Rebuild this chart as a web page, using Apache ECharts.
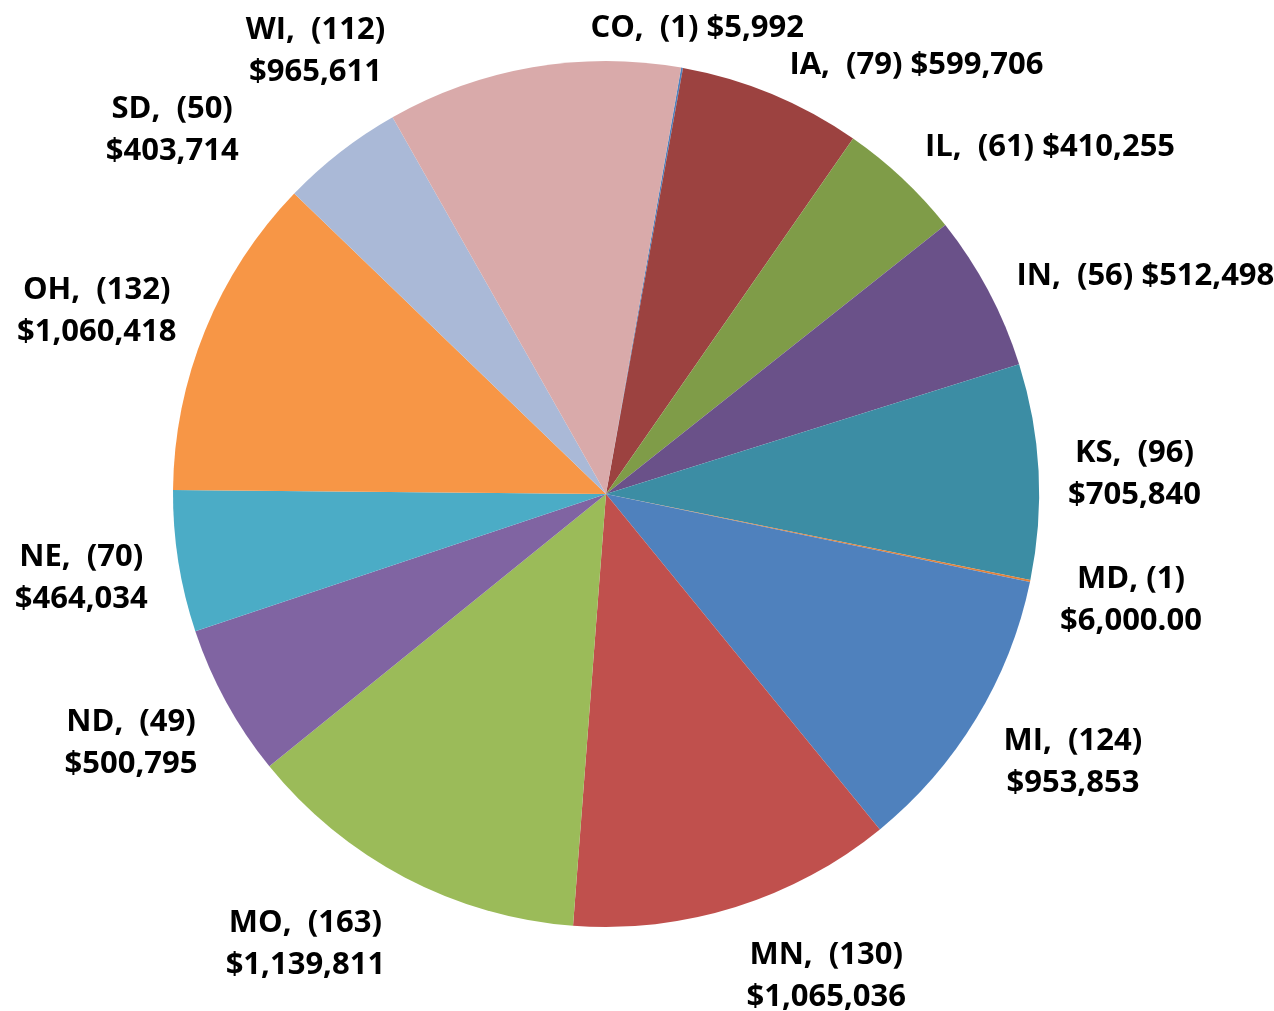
<!DOCTYPE html>
<html>
<head>
<meta charset="utf-8">
<script src="https://cdn.jsdelivr.net/npm/echarts@6/dist/echarts.min.js"></script>
<style>
  html, body { margin: 0; padding: 0; background: #fff; }
  #chart { width: 1274px; height: 1011px; }
</style>
</head>
<body>
<div id="chart"></div>
<script>
// states in clockwise order, starting near the top
const states = ['CO', 'IA', 'IL', 'IN', 'KS', 'MD', 'MI', 'MN', 'MO', 'ND', 'NE', 'OH', 'SD', 'WI'];
const counts = [1, 79, 61, 56, 96, 1, 124, 130, 163, 49, 70, 132, 50, 112];
const amounts = [5992, 599706, 410255, 512498, 705840, 6000, 953853, 1065036, 1139811, 500795, 464034, 1060418, 403714, 965611];
const labels = [
    'CO,  (1) $5,992',
    'IA,  (79) $599,706',
    'IL,  (61) $410,255',
    'IN,  (56) $512,498',
    'KS,  (96)\n$705,840',
    'MD, (1)\n$6,000.00',
    'MI,  (124)\n$953,853',
    'MN,  (130)\n$1,065,036',
    'MO,  (163)\n$1,139,811',
    'ND,  (49)\n$500,795',
    'NE,  (70)\n$464,034',
    'OH,  (132)\n$1,060,418',
    'SD,  (50)\n$403,714',
    'WI,  (112)\n$965,611'
];
const colors = ['#4F81BD', '#9C4240', '#7F9C48', '#6A5189', '#3C8DA4', '#E0813A', '#4F81BD',
    '#C0504D', '#9BBB59', '#8064A2', '#4BACC6', '#F79646', '#AAB9D7', '#D9AAAA'];

// where each label sits: [degrees clockwise from 12 o'clock, px from pie centre]
const labelSpots = [[11.0, 478], [35.7, 532], [51.8, 565], [67.7, 583], [87.5, 529], [101.1, 535],
    [119.6, 537], [155.3, 527], [213.9, 539], [242.6, 535], [261.2, 531], [290.0, 542], [310.2, 568], [326.9, 532]];

const cx = 606, cy = 494;

const chart = echarts.init(document.getElementById('chart'));

chart.setOption({
    animation: false,
    color: colors,
    series: [{
        type: 'pie',
        center: [cx, cy],
        radius: 433,
        startAngle: 80,
        clockwise: true,
        avoidLabelOverlap: false,
        minAngle: 0,
        itemStyle: { borderWidth: 0 },
        emphasis: { disabled: true },
        label: {
            show: true,
            position: 'outside',
            formatter: p => labels[p.dataIndex],
            fontFamily: 'Open Sans',
            fontWeight: 'bold',
            fontSize: 31,
            lineHeight: 42,
            color: '#000',
            align: 'center'
        },
        labelLine: { show: false },
        labelLayout: function (p) {
            const s = labelSpots[p.dataIndex];
            const a = s[0] * Math.PI / 180;
            return {
                x: cx + Math.sin(a) * s[1],
                y: cy - Math.cos(a) * s[1] + 3,
                align: 'center',
                verticalAlign: 'middle'
            };
        },
        data: states.map((s, i) => ({ name: s + ' (' + counts[i] + ')', value: amounts[i] }))
    }]
});
</script>
</body>
</html>
